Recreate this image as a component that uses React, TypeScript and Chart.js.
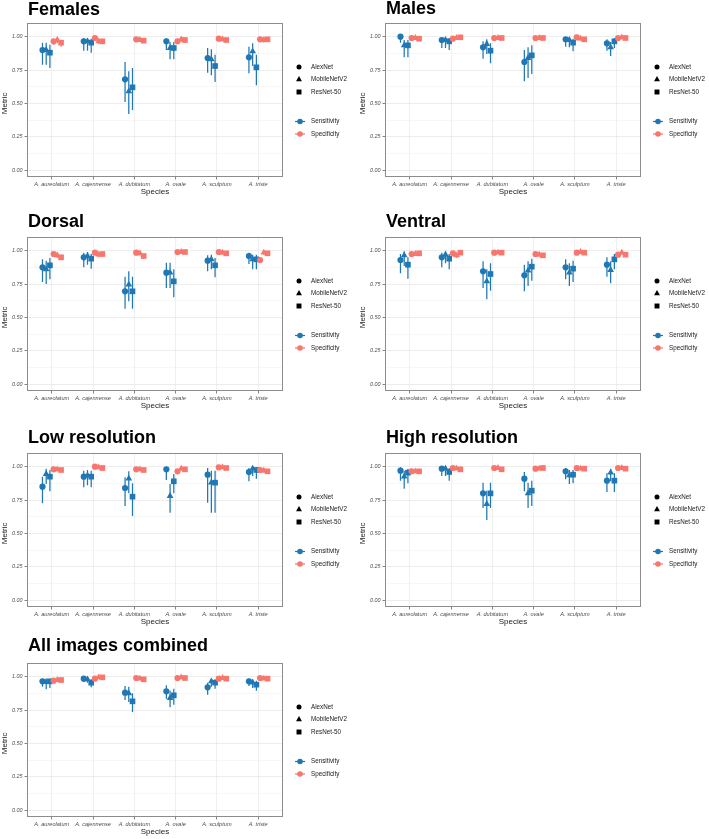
import React, { useEffect, useRef } from "react";
import { Chart, registerables } from "chart.js";

Chart.register(...registerables);

// ---- categories / groups ----
const species = ["A. aureolatum", "A. cajennense", "A. dubitatum", "A. ovale", "A. sculptum", "A. triste"];
const models = ["AlexNet", "MobileNetV2", "ResNet-50"];
const metrics = ["Sensitivity", "Specificity"];
const yMajor = [0, 0.25, 0.5, 0.75, 1];
const yMinor = [0.125, 0.375, 0.625, 0.875];

// Each row is one model (AlexNet, MobileNetV2, ResNet-50); each entry is [estimate, lower, upper] per species.
type Est = [number, number, number];

const femalesSens: Est[][] = [
  [[0.90, 0.79, 0.955], [0.965, 0.895, 0.99], [0.68, 0.51, 0.81], [0.965, 0.90, 0.99], [0.84, 0.73, 0.915], [0.845, 0.725, 0.925]],
  [[0.90, 0.79, 0.955], [0.965, 0.895, 0.99], [0.59, 0.42, 0.74], [0.915, 0.83, 0.96], [0.83, 0.71, 0.905], [0.89, 0.78, 0.95]],
  [[0.88, 0.765, 0.94], [0.955, 0.88, 0.985], [0.62, 0.45, 0.765], [0.915, 0.83, 0.96], [0.78, 0.66, 0.865], [0.77, 0.635, 0.865]],
];
const femalesSpec: Est[][] = [
  [[0.965, 0.94, 0.985], [0.99, 0.975, 1.0], [0.98, 0.965, 0.99], [0.965, 0.945, 0.985], [0.985, 0.97, 0.995], [0.98, 0.965, 0.995]],
  [[0.975, 0.95, 0.995], [0.965, 0.945, 0.985], [0.975, 0.96, 0.99], [0.98, 0.96, 0.995], [0.98, 0.965, 0.995], [0.975, 0.955, 0.99]],
  [[0.955, 0.925, 0.975], [0.965, 0.945, 0.985], [0.97, 0.955, 0.985], [0.975, 0.955, 0.99], [0.975, 0.96, 0.99], [0.98, 0.965, 0.995]],
];

const malesSens: Est[][] = [
  [[1.0, 0.955, 1.0], [0.975, 0.915, 0.995], [0.92, 0.835, 0.965], [0.81, 0.665, 0.90], [0.98, 0.925, 0.995], [0.95, 0.895, 0.98]],
  [[0.935, 0.845, 0.975], [0.975, 0.915, 0.995], [0.945, 0.87, 0.98], [0.84, 0.69, 0.92], [0.975, 0.92, 0.995], [0.92, 0.855, 0.96]],
  [[0.935, 0.845, 0.975], [0.965, 0.90, 0.99], [0.895, 0.80, 0.95], [0.86, 0.72, 0.935], [0.955, 0.89, 0.985], [0.965, 0.915, 0.99]],
];
const malesSpec: Est[][] = [
  [[0.99, 0.975, 1.0], [0.985, 0.97, 0.995], [0.99, 0.975, 1.0], [0.99, 0.975, 1.0], [0.995, 0.98, 1.0], [0.99, 0.975, 1.0]],
  [[0.99, 0.975, 1.0], [0.99, 0.975, 1.0], [0.99, 0.975, 1.0], [0.99, 0.975, 1.0], [0.985, 0.97, 0.995], [0.995, 0.98, 1.0]],
  [[0.985, 0.97, 0.995], [0.995, 0.98, 1.0], [0.99, 0.975, 1.0], [0.99, 0.975, 1.0], [0.98, 0.96, 0.99], [0.99, 0.975, 1.0]],
];

const dorsalSens: Est[][] = [
  [[0.875, 0.765, 0.935], [0.95, 0.875, 0.985], [0.695, 0.565, 0.805], [0.835, 0.72, 0.91], [0.925, 0.845, 0.965], [0.96, 0.90, 0.985]],
  [[0.86, 0.75, 0.925], [0.96, 0.895, 0.99], [0.745, 0.62, 0.845], [0.835, 0.72, 0.91], [0.935, 0.86, 0.97], [0.935, 0.86, 0.97]],
  [[0.89, 0.785, 0.945], [0.94, 0.865, 0.975], [0.695, 0.565, 0.805], [0.77, 0.65, 0.86], [0.89, 0.80, 0.945], [0.935, 0.86, 0.97]],
];
const dorsalSpec: Est[][] = [
  [[0.975, 0.955, 0.99], [0.985, 0.97, 0.995], [0.985, 0.97, 0.995], [0.99, 0.98, 1.0], [0.99, 0.975, 1.0], [0.93, 0.905, 0.95]],
  [[0.965, 0.945, 0.985], [0.97, 0.95, 0.99], [0.98, 0.965, 0.99], [0.99, 0.98, 1.0], [0.985, 0.97, 0.995], [0.985, 0.97, 0.995]],
  [[0.95, 0.93, 0.97], [0.975, 0.955, 0.99], [0.96, 0.94, 0.975], [0.99, 0.98, 1.0], [0.98, 0.965, 0.99], [0.98, 0.965, 0.99]],
];

const ventralSens: Est[][] = [
  [[0.93, 0.83, 0.975], [0.95, 0.875, 0.985], [0.845, 0.72, 0.92], [0.815, 0.695, 0.895], [0.875, 0.785, 0.935], [0.895, 0.805, 0.95]],
  [[0.965, 0.885, 0.995], [0.97, 0.905, 0.995], [0.77, 0.635, 0.86], [0.85, 0.735, 0.92], [0.835, 0.735, 0.905], [0.855, 0.755, 0.92]],
  [[0.895, 0.79, 0.95], [0.94, 0.86, 0.975], [0.825, 0.70, 0.905], [0.88, 0.775, 0.94], [0.865, 0.765, 0.925], [0.935, 0.86, 0.975]],
];
const ventralSpec: Est[][] = [
  [[0.975, 0.96, 0.99], [0.98, 0.965, 0.995], [0.985, 0.975, 0.995], [0.975, 0.96, 0.99], [0.985, 0.97, 0.995], [0.97, 0.955, 0.985]],
  [[0.975, 0.96, 0.99], [0.965, 0.945, 0.98], [0.985, 0.975, 0.995], [0.97, 0.955, 0.985], [0.99, 0.98, 1.0], [0.985, 0.97, 0.995]],
  [[0.98, 0.965, 0.99], [0.985, 0.97, 0.995], [0.985, 0.975, 0.995], [0.965, 0.95, 0.98], [0.985, 0.97, 0.995], [0.97, 0.955, 0.985]],
];

const lowResSens: Est[][] = [
  [[0.85, 0.725, 0.925], [0.925, 0.845, 0.97], [0.84, 0.705, 0.92], [0.98, 0.90, 1.0], [0.94, 0.73, 0.99], [0.96, 0.89, 0.99]],
  [[0.945, 0.87, 0.985], [0.935, 0.86, 0.975], [0.91, 0.80, 0.965], [0.78, 0.655, 0.87], [0.88, 0.655, 0.97], [0.985, 0.93, 1.0]],
  [[0.925, 0.815, 0.975], [0.925, 0.845, 0.97], [0.775, 0.63, 0.875], [0.89, 0.80, 0.945], [0.88, 0.655, 0.97], [0.975, 0.91, 0.995]],
];
const lowResSpec: Est[][] = [
  [[0.98, 0.965, 0.99], [1.0, 0.99, 1.0], [0.98, 0.965, 0.99], [0.965, 0.945, 0.98], [0.995, 0.985, 1.0], [0.975, 0.96, 0.99]],
  [[0.98, 0.965, 0.99], [0.995, 0.985, 1.0], [0.98, 0.965, 0.99], [0.985, 0.97, 0.995], [0.995, 0.985, 1.0], [0.97, 0.955, 0.985]],
  [[0.975, 0.96, 0.99], [0.99, 0.98, 1.0], [0.975, 0.96, 0.99], [0.98, 0.965, 0.99], [0.99, 0.98, 1.0], [0.965, 0.945, 0.98]],
];

const highResSens: Est[][] = [
  [[0.97, 0.895, 0.995], [0.985, 0.93, 1.0], [0.80, 0.69, 0.88], [0.91, 0.815, 0.96], [0.965, 0.905, 0.99], [0.895, 0.81, 0.95]],
  [[0.925, 0.835, 0.97], [0.985, 0.93, 1.0], [0.72, 0.60, 0.82], [0.80, 0.69, 0.88], [0.935, 0.87, 0.975], [0.955, 0.89, 0.985]],
  [[0.955, 0.875, 0.985], [0.96, 0.895, 0.99], [0.80, 0.69, 0.88], [0.82, 0.705, 0.895], [0.94, 0.875, 0.975], [0.895, 0.81, 0.95]],
];
const highResSpec: Est[][] = [
  [[0.965, 0.955, 0.98], [0.99, 0.98, 1.0], [0.99, 0.98, 1.0], [0.985, 0.975, 0.995], [0.99, 0.98, 1.0], [0.99, 0.98, 1.0]],
  [[0.965, 0.955, 0.98], [0.985, 0.975, 0.995], [0.99, 0.98, 1.0], [0.985, 0.975, 0.995], [0.985, 0.975, 0.995], [0.99, 0.98, 1.0]],
  [[0.965, 0.955, 0.98], [0.98, 0.97, 0.99], [0.98, 0.97, 0.99], [0.99, 0.98, 1.0], [0.985, 0.975, 0.995], [0.985, 0.975, 0.995]],
];

const combinedSens: Est[][] = [
  [[0.965, 0.925, 0.985], [0.985, 0.96, 0.995], [0.88, 0.825, 0.93], [0.89, 0.835, 0.935], [0.92, 0.865, 0.955], [0.965, 0.93, 0.985]],
  [[0.96, 0.905, 0.985], [0.98, 0.955, 0.995], [0.875, 0.81, 0.925], [0.84, 0.77, 0.895], [0.965, 0.925, 0.985], [0.955, 0.915, 0.98]],
  [[0.965, 0.915, 0.985], [0.955, 0.92, 0.98], [0.815, 0.735, 0.875], [0.86, 0.79, 0.91], [0.955, 0.91, 0.98], [0.94, 0.895, 0.97]],
];
const combinedSpec: Est[][] = [
  [[0.97, 0.96, 0.98], [0.985, 0.975, 0.995], [0.99, 0.98, 0.995], [0.99, 0.98, 0.995], [0.985, 0.975, 0.995], [0.99, 0.98, 0.995]],
  [[0.975, 0.965, 0.985], [0.995, 0.985, 1.0], [0.985, 0.975, 0.995], [0.995, 0.99, 1.0], [0.99, 0.98, 1.0], [0.985, 0.975, 0.995]],
  [[0.975, 0.965, 0.985], [0.995, 0.985, 1.0], [0.98, 0.97, 0.99], [0.99, 0.98, 0.995], [0.985, 0.975, 0.995], [0.985, 0.975, 0.995]],
];

// ---- styling ----
const FONT = '"Liberation Sans", Arial, Helvetica, sans-serif';
const metricColors = ["#1F78B4", "#F8766D"];
const modelShapes = ["circle", "triangle", "rect"] as const;
const shapeRadius = [3.1, 3.9, 4.0];
const DODGE = 0.09;

// Canvas box and plotting area inside it
const CW = 354;
const CH = 219;
const AREA_LEFT = 27;
const AREA_TOP = 30;
const AREA_RIGHT_PAD = 71;
const X_AXIS_H = 35;

type PanelCfg = {
  title: string;
  sens: Est[][];
  spec: Est[][];
  left: number;
  top: number;
  titleGap: number;
};

const panels: PanelCfg[] = [
  { title: "Females", sens: femalesSens, spec: femalesSpec, left: 27, top: 23, titleGap: 8 },
  { title: "Males", sens: malesSens, spec: malesSpec, left: 385, top: 23, titleGap: 9 },
  { title: "Dorsal", sens: dorsalSens, spec: dorsalSpec, left: 27, top: 237, titleGap: 10 },
  { title: "Ventral", sens: ventralSens, spec: ventralSpec, left: 385, top: 237, titleGap: 10 },
  { title: "Low resolution", sens: lowResSens, spec: lowResSpec, left: 27, top: 453, titleGap: 10 },
  { title: "High resolution", sens: highResSens, spec: highResSpec, left: 385, top: 453, titleGap: 10 },
  { title: "All images combined", sens: combinedSens, spec: combinedSpec, left: 27, top: 663, titleGap: 12 },
];

const isMajor = (v: number) => Math.abs(v * 4 - Math.round(v * 4)) < 1e-9;

function drawShape(ctx: CanvasRenderingContext2D, shape: string, x: number, y: number, r: number) {
  ctx.beginPath();
  if (shape === "circle") {
    ctx.arc(x, y, r, 0, Math.PI * 2);
  } else if (shape === "triangle") {
    ctx.moveTo(x, y - r);
    ctx.lineTo(x + r * 0.866, y + r * 0.5);
    ctx.lineTo(x - r * 0.866, y + r * 0.5);
    ctx.closePath();
  } else {
    const s = r * Math.SQRT1_2;
    ctx.rect(x - s, y - s, 2 * s, 2 * s);
  }
  ctx.fill();
}

function buildDatasets(cfg: PanelCfg) {
  const out: any[] = [];
  [cfg.sens, cfg.spec].forEach((rows, m) => {
    rows.forEach((row, k) => {
      const g = m * 3 + k;
      const offset = (g - 2.5) * DODGE;
      out.push({
        label: `${metrics[m]} ${models[k]}`,
        data: row.map((e, i) => ({ x: i + 1 + offset, y: e[0], lo: e[1], hi: e[2] })),
        pointStyle: modelShapes[k],
        pointRadius: shapeRadius[k],
        pointBackgroundColor: metricColors[m],
        pointBorderColor: metricColors[m],
        pointBorderWidth: 0,
        errColor: metricColors[m],
        order: 10 - g,
      });
    });
  });
  return out;
}

function Panel({ cfg }: { cfg: PanelCfg }) {
  const ref = useRef<HTMLCanvasElement>(null);

  useEffect(() => {
    if (!ref.current) return;

    const decor = {
      id: "panelDecor",
      beforeDatasetsDraw(chart: any) {
        const { ctx, scales } = chart;
        const xs = scales.x;
        const ys = scales.y;
        ctx.save();
        ctx.lineWidth = 1.25;
        chart.data.datasets.forEach((ds: any) => {
          ctx.strokeStyle = ds.errColor;
          ctx.beginPath();
          ds.data.forEach((p: any) => {
            const px = xs.getPixelForValue(p.x);
            ctx.moveTo(px, ys.getPixelForValue(p.lo));
            ctx.lineTo(px, ys.getPixelForValue(p.hi));
          });
          ctx.stroke();
        });
        ctx.restore();
      },
      afterDraw(chart: any) {
        const { ctx, chartArea: a, scales } = chart;
        ctx.save();
        // panel border
        ctx.strokeStyle = "#8C8C8C";
        ctx.lineWidth = 1;
        ctx.strokeRect(a.left + 0.5, a.top + 0.5, a.right - a.left - 1, a.bottom - a.top - 1);

        // panel title
        ctx.fillStyle = "#000";
        ctx.font = `bold 18px ${FONT}`;
        ctx.textAlign = "left";
        ctx.textBaseline = "alphabetic";
        ctx.fillText(cfg.title, a.left + 1, a.top - cfg.titleGap);

        // axis titles
        ctx.font = `8px ${FONT}`;
        ctx.fillStyle = "#1A1A1A";
        ctx.textAlign = "center";
        ctx.textBaseline = "middle";
        ctx.fillText("Species", (a.left + a.right) / 2, a.bottom + 15);
        ctx.save();
        ctx.translate(a.left - 22, scales.y.getPixelForValue(0.5));
        ctx.rotate(-Math.PI / 2);
        ctx.fillText("Metric", 0, 0);
        ctx.restore();

        // legend: models (shape)
        const kx = a.right + 16;
        const tx = a.right + 28;
        ctx.font = `6.3px ${FONT}`;
        ctx.textAlign = "left";
        ctx.textBaseline = "middle";
        const modelRows = [44, 56.5, 69];
        models.forEach((name, k) => {
          const y = a.top + modelRows[k];
          ctx.fillStyle = "#000";
          drawShape(ctx, modelShapes[k], kx, y, [2.5, 3.4, 3.5][k]);
          ctx.fillStyle = "#1A1A1A";
          ctx.fillText(name, tx, y);
        });

        // legend: metrics (colour)
        const metricRows = [98.5, 111];
        metrics.forEach((name, m) => {
          const y = a.top + metricRows[m];
          ctx.strokeStyle = metricColors[m];
          ctx.lineWidth = 1.2;
          ctx.beginPath();
          ctx.moveTo(a.right + 12, y);
          ctx.lineTo(a.right + 22, y);
          ctx.stroke();
          ctx.fillStyle = metricColors[m];
          drawShape(ctx, "circle", a.right + 17, y, 2.8);
          ctx.fillStyle = "#1A1A1A";
          ctx.fillText(name, tx, y);
        });
        ctx.restore();
      },
    };

    const chart = new Chart(ref.current, {
      type: "scatter",
      data: { datasets: buildDatasets(cfg) },
      plugins: [decor],
      options: {
        animation: false,
        responsive: false,
        maintainAspectRatio: false,
        devicePixelRatio: 1,
        events: [],
        layout: { padding: { top: AREA_TOP, right: AREA_RIGHT_PAD, bottom: 0, left: 0 } },
        plugins: {
          legend: { display: false },
          tooltip: { enabled: false },
          title: { display: false },
        },
        scales: {
          x: {
            type: "linear",
            min: 0.4,
            max: 6.6,
            afterBuildTicks: (s: any) => {
              s.ticks = species.map((_, i) => ({ value: i + 1 }));
            },
            afterFit: (s: any) => {
              s.height = X_AXIS_H;
            },
            ticks: {
              autoSkip: false,
              maxRotation: 0,
              minRotation: 0,
              padding: 1.5,
              color: "#4D4D4D",
              font: { family: FONT, size: 5.6, style: "italic" },
              callback: (v: any) => species[Math.round(Number(v)) - 1] ?? "",
            },
            grid: {
              color: "#EBEBEB",
              lineWidth: 0.8,
              drawTicks: true,
              tickLength: 2.5,
              tickColor: "#666666",
            },
            border: { display: false },
          },
          y: {
            type: "linear",
            min: -0.0525,
            max: 1.1025,
            afterBuildTicks: (s: any) => {
              s.ticks = [...yMajor, ...yMinor].sort((p, q) => p - q).map((v) => ({ value: v }));
            },
            afterFit: (s: any) => {
              s.width = AREA_LEFT;
            },
            ticks: {
              autoSkip: false,
              padding: 2,
              color: "#4D4D4D",
              font: { family: FONT, size: 5.4, style: "italic" },
              callback: (v: any) => (isMajor(Number(v)) ? Number(v).toFixed(2) : ""),
            },
            grid: {
              color: (c: any) => (c.tick && isMajor(c.tick.value) ? "#E8E8E8" : "#F2F2F2"),
              lineWidth: (c: any) => (c.tick && isMajor(c.tick.value) ? 0.8 : 0.6),
              drawTicks: true,
              tickLength: 2.5,
              tickColor: (c: any) => (c.tick && isMajor(c.tick.value) ? "#666666" : "rgba(0,0,0,0)"),
            },
            border: { display: false },
          },
        },
      } as any,
    });

    return () => chart.destroy();
  }, [cfg]);

  return (
    <canvas
      ref={ref}
      width={CW}
      height={CH}
      style={{
        position: "absolute",
        left: cfg.left - AREA_LEFT,
        top: cfg.top - AREA_TOP,
        width: CW,
        height: CH,
      }}
    />
  );
}

export default function App() {
  return (
    <div
      style={{
        position: "absolute",
        left: 0,
        top: 0,
        width: 709,
        height: 839,
        background: "#FFFFFF",
        overflow: "hidden",
      }}
    >
      {panels.map((p) => (
        <Panel key={p.title} cfg={p} />
      ))}
    </div>
  );
}
